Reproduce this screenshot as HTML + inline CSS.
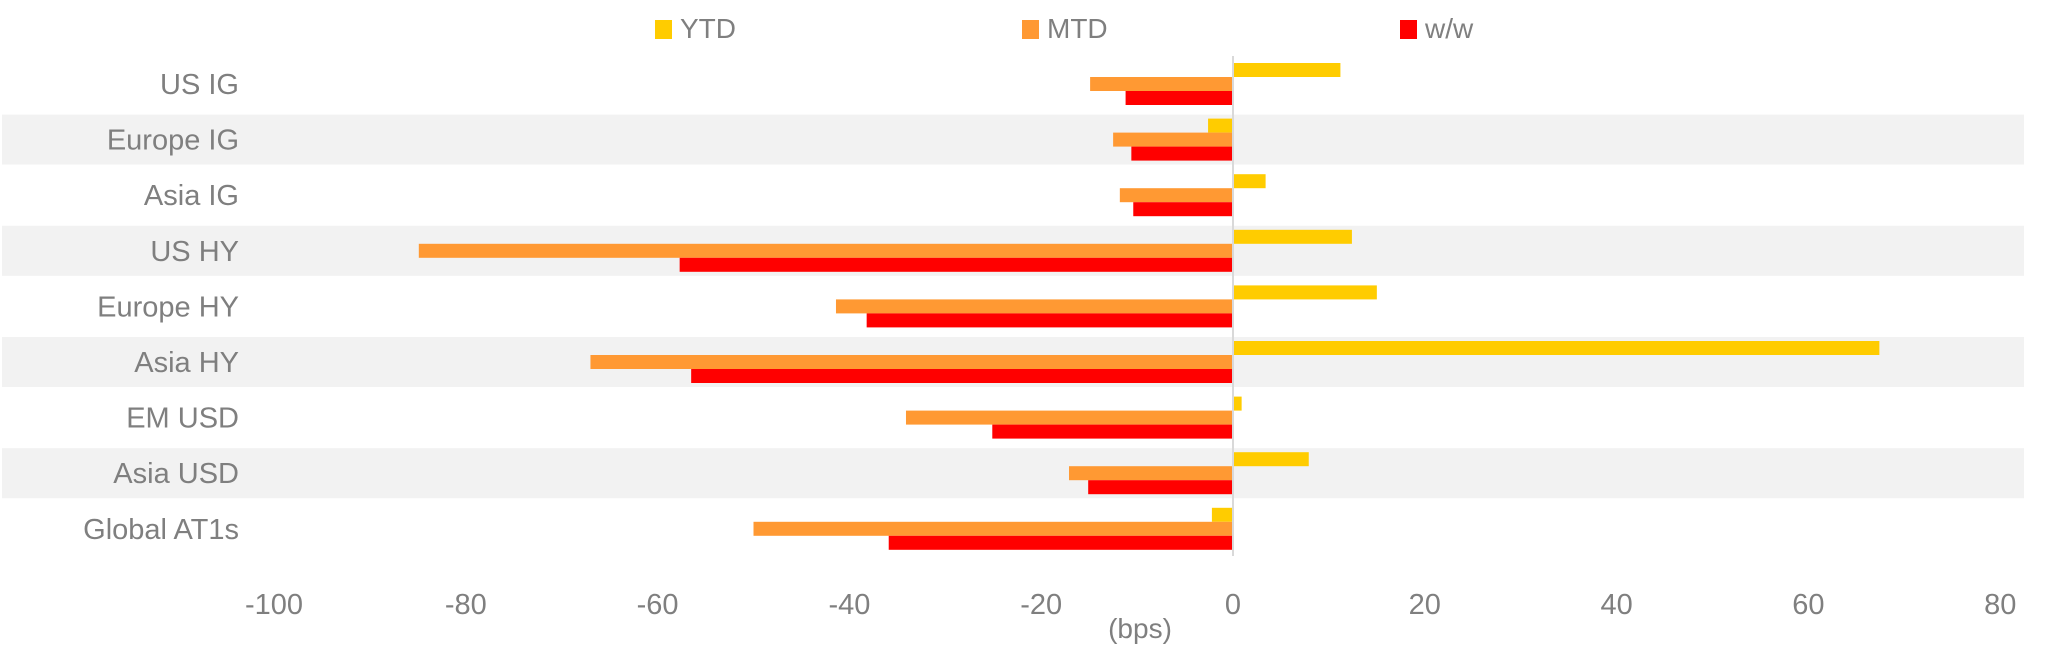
<!DOCTYPE html>
<html><head><meta charset="utf-8">
<style>
html,body{margin:0;padding:0;background:#fff;}
svg{display:block;font-family:"Liberation Sans",sans-serif;}
</style></head>
<body>
<svg id="chart" width="2045" height="654" viewBox="0 0 2045 654" xmlns="http://www.w3.org/2000/svg"></svg>
<script>
const categories = ["US IG","Europe IG","Asia IG","US HY","Europe HY","Asia HY","EM USD","Asia USD","Global AT1s"];
const ytdValues = [11.2,-2.6,3.4,12.4,15,67.4,0.9,7.9,-2.2];
const mtdValues = [-14.9,-12.5,-11.8,-84.9,-41.4,-67,-34.1,-17.1,-50];
const wowValues = [-11.2,-10.6,-10.4,-57.7,-38.2,-56.5,-25.1,-15.1,-35.9];
const xTicks = [-100,-80,-60,-40,-20,0,20,40,60,80];
const seriesNames = ["YTD","MTD","w/w"];

const NS = "http://www.w3.org/2000/svg";
const svg = document.getElementById('chart');
const x0 = 1233, pxPerUnit = 9.59;
function xScale(v){ return x0 + v * pxPerUnit; }
const rowTop = 56, rowPitch = 55.6;
function yCenter(i){ return 84 + i * rowPitch; }
function mk(tag, attrs){ const e = document.createElementNS(NS, tag); for (const k in attrs) e.setAttribute(k, attrs[k]); svg.appendChild(e); return e; }

// bands
categories.forEach((c,i)=>{
  if (i % 2 === 1) {
    const b = mk('rect',{x:2,y:yCenter(i)-25,width:2022,height:50,fill:'#f2f2f2'});
    
    
  }
});

const colors = ["#ffcc00","#ff9933","#ff0000"];
const series = [ytdValues, mtdValues, wowValues];
const barH = 14;
categories.forEach((c,i)=>{
  series.forEach((vals,s)=>{
    const v = vals[i];
    const xa = xScale(Math.min(0,v)), xb = xScale(Math.max(0,v));
    const r = mk('rect',{x:xa,y:yCenter(i)-21+s*barH,width:xb-xa,height:barH,fill:colors[s]});
    
    
  });
  const t = mk('text',{x:239,y:yCenter(i)+10,'text-anchor':'end','font-size':29,fill:'#7f7f7f'});
  t.textContent = c;
  
  
});

const axis = mk('line',{x1:x0,x2:x0,y1:56,y2:556,stroke:'#d9d9d9','stroke-width':2});



xTicks.forEach(v=>{
  const t = mk('text',{x:xScale(v),y:614,'text-anchor':'middle','font-size':29,fill:'#7f7f7f'});
  t.textContent = v;
  
  
});
const xt = mk('text',{x:1140,y:638,'text-anchor':'middle','font-size':28,fill:'#7f7f7f'});
xt.textContent = '(bps)';



const legendX = [655,1022,1400];
seriesNames.forEach((n,s)=>{
  const sq = mk('rect',{x:legendX[s],y:20,width:17,height:19,fill:colors[s]});
  
  
  const t = mk('text',{x:legendX[s]+25,y:38,'font-size':28,fill:'#7f7f7f'});
  t.textContent = n;
  
  
});
</script>
</body></html>
